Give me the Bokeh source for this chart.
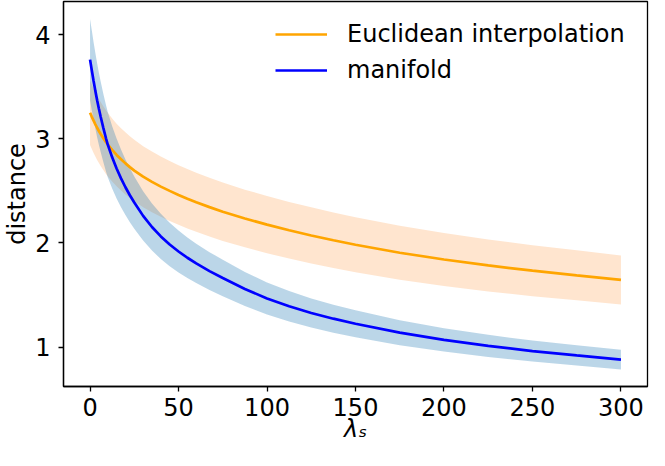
from bokeh.plotting import figure
from bokeh.models import Range1d, Legend, LegendItem, FixedTicker
from bokeh.embed import file_html
from bokeh.resources import INLINE

# lambda_s sample positions
lam = [0, 1, 2, 3, 4, 5, 6, 7.5, 9, 10, 12.5, 15, 17.5, 20, 22.5, 25, 30, 35,
       40, 45, 50, 55, 60, 67.5, 75, 87.5, 100, 112.5, 125, 137.5, 150, 175,
       200, 225, 250, 275, 300]

# Euclidean interpolation: mean distance and band half-width
euclid_mean = [3.25, 3.211, 3.174, 3.139, 3.106, 3.075, 3.046, 3.006, 2.968,
               2.945, 2.893, 2.845, 2.803, 2.764, 2.728, 2.695, 2.636, 2.586,
               2.541, 2.50, 2.461, 2.425, 2.391, 2.344, 2.30, 2.235, 2.176,
               2.122, 2.072, 2.026, 1.983, 1.906, 1.841, 1.784, 1.734, 1.689,
               1.645]
euclid_half = [0.31, 0.31, 0.31, 0.31, 0.309, 0.308, 0.307, 0.306, 0.305,
               0.304, 0.302, 0.30, 0.299, 0.298, 0.296, 0.295, 0.293, 0.291,
               0.289, 0.288, 0.286, 0.285, 0.284, 0.282, 0.28, 0.277, 0.275,
               0.272, 0.27, 0.267, 0.265, 0.26, 0.255, 0.25, 0.245, 0.24,
               0.235]

# manifold: mean distance and band half-width
manifold_mean = [3.76, 3.655, 3.555, 3.46, 3.37, 3.288, 3.212, 3.105, 3.005,
                 2.945, 2.822, 2.715, 2.62, 2.535, 2.458, 2.388, 2.26, 2.153,
                 2.063, 1.985, 1.918, 1.858, 1.804, 1.73, 1.664, 1.558, 1.467,
                 1.392, 1.328, 1.273, 1.224, 1.139, 1.069, 1.012, 0.962, 0.92,
                 0.88]
manifold_half = [0.39, 0.384, 0.373, 0.364, 0.355, 0.347, 0.339, 0.328, 0.319,
                 0.313, 0.299, 0.287, 0.277, 0.267, 0.259, 0.251, 0.237, 0.226,
                 0.217, 0.208, 0.201, 0.195, 0.189, 0.182, 0.175, 0.164, 0.154,
                 0.146, 0.139, 0.134, 0.129, 0.12, 0.112, 0.106, 0.101, 0.097,
                 0.094]

x_ticks = [0, 50, 100, 150, 200, 250, 300]
y_ticks = [1, 2, 3, 4]

labels = ["Euclidean interpolation", "manifold"]
x_title = "λₛ"
y_title = "distance"

FONT = "DejaVu Sans"
FS = "24px"

e_lo = [m - h for m, h in zip(euclid_mean, euclid_half)]
e_hi = [m + h for m, h in zip(euclid_mean, euclid_half)]
m_lo = [m - h for m, h in zip(manifold_mean, manifold_half)]
m_hi = [m + h for m, h in zip(manifold_mean, manifold_half)]

p = figure(width=649, height=450, output_backend="svg", toolbar_location=None,
           x_range=Range1d(-15, 315), y_range=Range1d(0.622, 4.318),
           min_border_left=58, min_border_right=2, min_border_top=1,
           min_border_bottom=64)

p.varea(x=lam, y1=e_lo, y2=e_hi, fill_color="#ff7f0e", fill_alpha=0.2)
p.varea(x=lam, y1=m_lo, y2=m_hi, fill_color="#1f77b4", fill_alpha=0.3)
r1 = p.line(lam, euclid_mean, line_color="orange", line_width=2.7)
r2 = p.line(lam, manifold_mean, line_color="blue", line_width=2.7)

legend = Legend(items=[LegendItem(label=labels[0], renderers=[r1]),
                       LegendItem(label=labels[1], renderers=[r2])],
                location=(212, 298), padding=0, margin=0, spacing=0,
                glyph_width=52, glyph_height=36, label_standoff=20,
                label_text_font=FONT, label_text_font_size=FS,
                label_text_color="black", border_line_color=None,
                background_fill_alpha=0)
p.add_layout(legend)

p.xgrid.visible = False
p.ygrid.visible = False
p.outline_line_color = "black"
p.outline_line_width = 1.3
p.outline_line_alpha = 1

p.xaxis.ticker = FixedTicker(ticks=x_ticks)
p.yaxis.ticker = FixedTicker(ticks=y_ticks)

for ax in (p.xaxis[0], p.yaxis[0]):
    ax.axis_line_color = "black"
    ax.axis_line_width = 1.3
    ax.major_tick_line_color = "black"
    ax.major_tick_line_width = 1.3
    ax.major_tick_in = 0
    ax.major_tick_out = 5
    ax.minor_tick_line_color = None
    ax.major_label_text_font = FONT
    ax.major_label_text_font_size = FS
    ax.major_label_text_color = "black"
    ax.axis_label_text_font = FONT
    ax.axis_label_text_font_size = FS
    ax.axis_label_text_color = "black"

p.xaxis.axis_label = x_title
p.xaxis.axis_label_text_font_style = "italic"
p.xaxis.major_label_standoff = 6
p.xaxis.axis_label_standoff = -4

p.yaxis.axis_label = y_title
p.yaxis.axis_label_text_font_style = "normal"
p.yaxis.major_label_standoff = 8
p.yaxis.axis_label_standoff = 1

open("out.html", "w").write(file_html(p, INLINE))
